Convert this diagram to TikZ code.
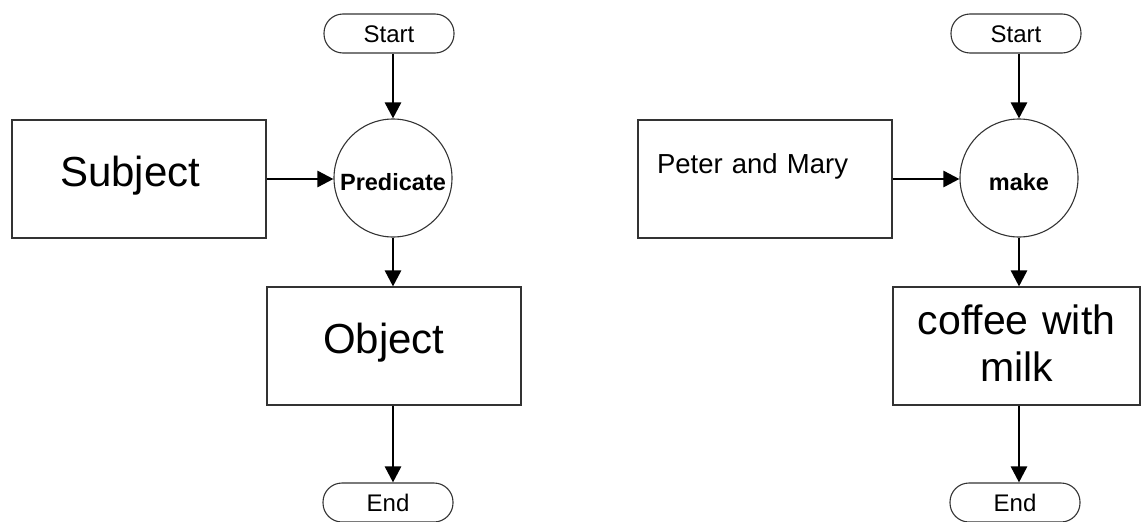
\documentclass[tikz,border=0pt]{standalone}
\usepackage{fontspec}
\setmainfont{Liberation Sans}
\usetikzlibrary{arrows.meta}

\begin{document}
\begin{tikzpicture}[x=1pt,y=-1pt,
        terminal/.style={draw=black!80,line width=1.1pt,rounded corners=19pt,minimum width=130pt,minimum height=39pt,inner sep=0pt,text height=17pt,text depth=0pt,font=\fontsize{24}{28}\selectfont},
        stepbox/.style={draw=black!80,line width=1.1pt,minimum height=118pt,inner ysep=0pt,align=left},
        verb/.style={circle,draw=black!80,line width=1.1pt,minimum size=118pt,inner sep=0pt,text height=24pt,text depth=0pt,font=\fontsize{23.5}{27}\selectfont\bfseries},
        flow/.style={draw=black,line width=2.6pt,-{Triangle[width=16pt,length=16pt]}}]
        \useasboundingbox (0,0) rectangle (1141,522);
        % general pattern
        \node[terminal] (start1) at (389,33.5) {Start};
        \node[verb] (pred) at (393,178) {Predicate};
        \node[stepbox,inner xsep=48pt,text width=158pt,text height=30pt,text depth=16pt,font=\fontsize{42}{48}\selectfont] (subj) at (139,179) {Subject};
        \node[stepbox,inner xsep=56pt,text width=142pt,text height=30pt,text depth=16pt,font=\fontsize{42}{48}\selectfont] (obj) at (394,346) {Object};
        \node[terminal] (end1) at (388,502.5) {End};
        \draw[flow] (start1.south -| pred) -- (pred);
        \draw[flow] (subj.east) -- (subj.east -| pred.west);
        \draw[flow] (pred) -- (pred |- obj.north);
        \draw[flow] (obj.south -| pred) -- (end1.north -| pred);
        % example sentence
        \node[terminal] (start2) at (1016,33.5) {Start};
        \node[verb] (make) at (1019,178) {make};
        \node[stepbox,inner xsep=19pt,text width=216pt,text height=20pt,text depth=32pt,font=\fontsize{27.5}{32}\selectfont] (pm) at (765,179) {Peter and Mary};
        \node[stepbox,inner xsep=8pt,text width=231pt,align=center,text height=30pt,text depth=54pt,font=\fontsize{41}{47}\selectfont] (coffee) at (1016.5,346) {coffee with\\milk};
        \node[terminal] (end2) at (1015,502.5) {End};
        \draw[flow] (start2.south -| make) -- (make);
        \draw[flow] (pm.east) -- (pm.east -| make.west);
        \draw[flow] (make) -- (make |- coffee.north);
        \draw[flow] (coffee.south -| make) -- (end2.north -| make);
\end{tikzpicture}
\end{document}
